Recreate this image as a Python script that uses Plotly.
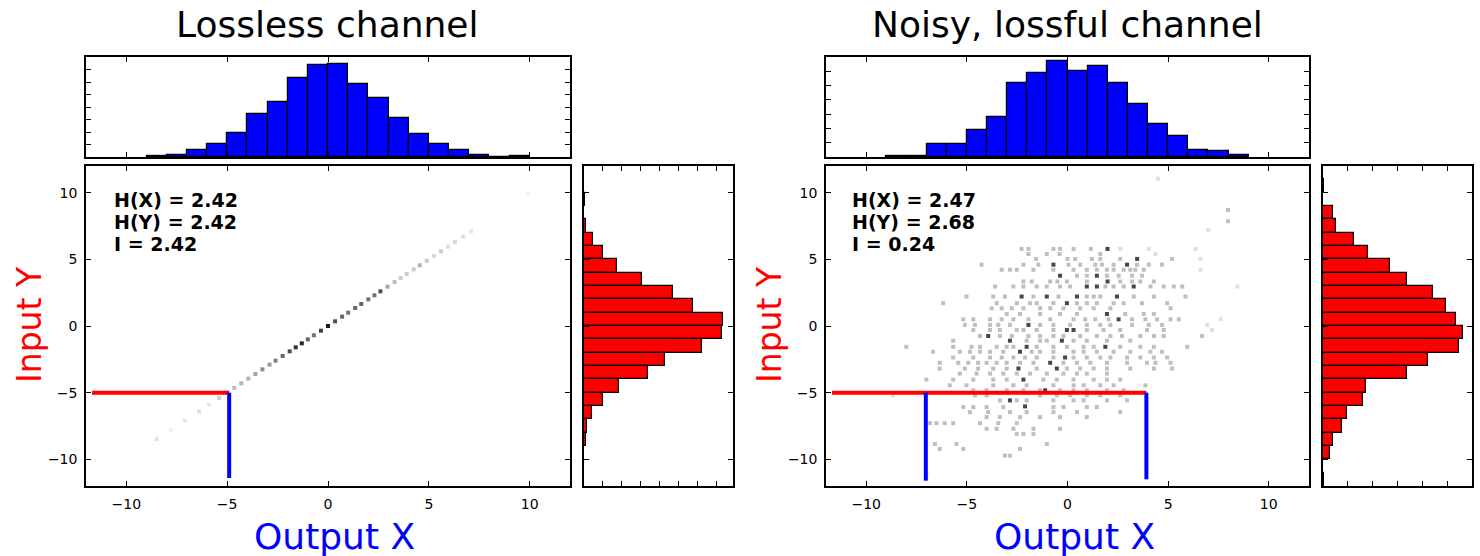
import plotly.graph_objects as go

W, H = 1480, 556

# ---------------- DATA ----------------
# Lossless channel: marginal histogram of X (bin centres, heights in axis units)
lossless_x_bins = [-8.5, -7.5, -6.5, -5.5, -4.5, -3.5, -2.5, -1.5, -0.5, 0.5,
                   1.5, 2.5, 3.5, 4.5, 5.5, 6.5, 7.5, 8.5, 9.5]
lossless_x_counts = [0.08, 0.2, 0.54, 1.03, 1.92, 3.46, 4.38, 6.35, 7.38, 7.43,
                     5.86, 4.73, 3.11, 1.81, 1.05, 0.57, 0.19, 0.0, 0.08]
# Lossless channel: marginal histogram of Y
lossless_y_bins = [9.5, 8.5, 7.5, 6.5, 5.5, 4.5, 3.5, 2.5, 1.5, 0.5,
                   -0.5, -1.5, -2.5, -3.5, -4.5, -5.5, -6.5, -7.5, -8.5]
lossless_y_counts = [0.05, 0.0, 0.13, 0.5, 1.0, 1.75, 3.05, 4.7, 5.79, 7.36,
                     7.32, 6.27, 4.29, 3.41, 1.84, 1.02, 0.45, 0.14, 0.1]

# Noisy channel: marginal histogram of X
noisy_x_bins = [-8.5, -7.5, -6.5, -5.5, -4.5, -3.5, -2.5, -1.5, -0.5, 0.5,
                1.5, 2.5, 3.5, 4.5, 5.5, 6.5, 7.5, 8.5]
noisy_x_counts = [0.05, 0.1, 0.9, 0.9, 1.86, 2.83, 5.19, 5.86, 6.69, 6.05,
                  6.36, 5.19, 3.69, 2.33, 1.48, 0.52, 0.4, 0.12]
# Noisy channel: marginal histogram of Y
noisy_y_bins = [10.5, 9.5, 8.5, 7.5, 6.5, 5.5, 4.5, 3.5, 2.5, 1.5, 0.5, -0.5,
                -1.5, -2.5, -3.5, -4.5, -5.5, -6.5, -7.5, -8.5, -9.5, -10.5, -11.5]
noisy_y_counts = [0.03, 0.0, 0.42, 0.54, 1.24, 1.83, 2.68, 3.37, 4.43, 4.97, 5.36, 5.63,
                  5.47, 4.22, 3.37, 1.72, 1.62, 0.97, 0.77, 0.42, 0.27, 0.0, 0.03]

# Lossless joint distribution: cells along the diagonal (x = y) and darkness 0..1
lossless_cells_x = [-8.5, -7.8, -7.1, -6.4, -5.9, -5.4, -5.0, -4.65, -4.3, -3.95,
                    -3.6, -3.25, -2.9, -2.6, -2.25, -1.9, -1.6, -1.3, -1.0, -0.7,
                    -0.35, 0.0, 0.35, 0.7, 1.0, 1.35, 1.65, 2.0, 2.3, 2.6,
                    2.95, 3.3, 3.6, 3.9, 4.25, 4.55, 4.9, 5.25, 5.6, 5.95,
                    6.3, 6.7, 7.1, 9.9]
lossless_cells_dark = [0.12, 0.05, 0.1, 0.12, 0.1, 0.18, 0.2, 0.25, 0.3, 0.3,
                       0.35, 0.45, 0.4, 0.5, 0.6, 0.7, 0.8, 0.85, 0.6, 0.55,
                       0.75, 0.9, 0.7, 0.6, 0.55, 0.6, 0.6, 0.55, 0.55, 0.7,
                       0.35, 0.25, 0.2, 0.2, 0.2, 0.3, 0.22, 0.15, 0.2, 0.12,
                       0.15, 0.12, 0.1, 0.05]

# Noisy joint distribution: light cells, one row of x positions per y value
noisy_rows_y = [5.78, 5.4, 5.03, 4.6, 4.22, 3.77, 3.34, 2.96, 2.21, 1.71, 1.33, 0.9,
                0.5, 0.08, -0.3, -0.75, -1.1, -1.56, -1.93, -2.36, -2.76, -3.19,
                -3.57, -4.02, -4.45, -4.82, -5.2, -5.58, -6.08, -6.46, -6.83,
                -7.29, -7.71, -8.09, -8.84, -9.22, -9.72, 8.7, 7.86]
noisy_rows_x = [
    [-2.28, -1.94, -0.70, -0.37, 0.30, 1.16],
    [-1.94, -1.03, -0.40, 1.63],
    [-1.56, 0.0, 0.38, 1.21, 1.63, 2.62, 5.20],
    [-4.27, -2.19, -1.45, 0.05, 0.63, 1.38, 1.71, 2.29, 3.46, 4.04, 4.70],
    [-3.27, -2.86, -2.52, -1.69, -0.70, 0.30, 0.96, 1.46, 1.96, 2.29, 2.79, 3.12, 3.37, 3.79],
    [0.47, 0.96, 1.96, 2.54, 3.21, 3.70],
    [-2.19, -1.78, -0.86, -0.50, -0.03, 0.96, 2.62, 3.21, 3.62, 4.29],
    [-3.60, -2.69, -2.19, -1.53, -1.03, -0.37, 0.13, 1.88, 2.29, 2.79, 4.12, 4.78, 5.28, 5.70],
    [-5.02, -3.69, -3.11, -1.69, -0.45, 0.96, 1.30, 1.63, 3.29, 4.29, 5.86],
    [-6.18, -3.52, -2.52, -1.86, -1.53, -0.70, 0.47, 0.96, 1.46, 2.29, 2.79, 3.70, 4.95],
    [-3.77, -3.27, -2.77, -2.19, -1.36, -0.86, -0.20, 0.63, 1.30, 2.13, 5.12],
    [-3.02, -2.36, -1.36, -0.37, 0.47, 2.87, 3.79, 4.29],
    [-5.18, -4.68, -3.85, -3.27, -2.69, -1.94, -0.86, 0.30, 0.88, 1.38, 2.04, 3.21, 3.87, 4.45, 5.12, 5.53],
    [-5.10, -4.60, -3.85, -3.44, -2.86, -1.36, -0.70, 0.13, 0.96, 1.63, 2.13, 3.21, 4.04, 4.70],
    [-4.68, -3.85, -3.36, -2.52, -2.19, -1.53, -0.70, 0.96, 1.79, 2.62, 3.95, 4.78],
    [-4.35, -3.36, -2.77, -1.94, -1.36, -0.70, -0.20, 0.63, 1.46, 2.13, 2.71, 3.62, 4.29, 4.78, 6.69],
    [-5.68, -2.03, -1.36, -1.03, 0.30, 0.96, 1.96, 3.12],
    [-8.01, -5.68, -4.77, -4.35, -3.52, -3.02, -2.69, -1.53, -0.70, -0.03, 0.80, 1.30, 2.62, 3.62, 4.29, 5.95],
    [-6.68, -5.35, -4.85, -4.35, -3.85, -3.19, -1.78, -1.36, -0.70, 0.30, 0.80, 1.46, 2.29, 3.12, 4.12, 4.70],
    [-5.68, -4.68, -3.85, -3.27, -2.69, -2.11, -1.53, -0.70, 0.30, 0.96, 1.63, 2.13, 2.96, 3.62, 4.29, 4.95],
    [-6.35, -5.43, -4.93, -4.44, -4.02, -3.52, -3.02, -2.36, -1.69, -0.20, 0.47, 1.13, 1.96, 2.96, 3.95, 4.37, 5.12],
    [-6.35, -5.10, -4.44, -3.69, -3.02, -1.53, -0.03, 0.63, 1.30, 1.96, 3.12, 4.29, 5.20],
    [-5.35, -4.52, -3.85, -3.19, -2.52, -1.86, -1.03, -0.20, 0.47, 0.96, 1.96],
    [-7.01, -5.68, -4.68, -3.69, -3.02, -1.20, -0.53, 0.30, 1.30, 1.96, 2.62],
    [-5.85, -5.02, -3.69, -2.69, -2.03, -0.70, 0.30, 0.80, 1.63, 2.29, 3.87],
    [-4.68, -4.02, -3.02, -2.19, -1.36, -0.37, 0.30, 0.96, 1.96, 2.79],
    [-4.60, -4.02, -1.36, -0.53, 0.13, 0.96, 1.63, 2.62],
    [-3.36, -2.52, -2.03, -0.70, 0.30, 0.80, 1.96, 2.96],
    [-5.18, -4.68, -4.02, -3.19, -0.70, -0.20, 0.96, 1.46],
    [-4.85, -3.94, -2.86, -2.03, -0.70, 0.47, 2.62],
    [-4.02, -3.36, -2.36, -1.36, -0.37, 0.96],
    [-6.84, -6.51, -6.10, -5.68, -4.35, -3.44, -2.52],
    [-4.02, -3.52, -2.69, -1.69, -0.37],
    [-2.52, -2.19, -1.69],
    [-6.59, -5.52, -1.03],
    [-6.35, -5.18, -2.36],
    [-3.11, -2.86],
    [7.97],
    [7.97],
]
# Noisy joint distribution: dark (high-count) cells
noisy_dark_x = [1.99, 3.46, -0.70, 2.96, -0.37, 1.46, 1.99, 0.96, 1.46, 3.29, -2.28, -1.03,
                0.47, 2.46, -0.03, 1.96, 2.54, -1.94, -0.03, 0.30, -3.94, -2.86, -0.28,
                -2.03, 1.88, -2.36, -0.12, -0.86, -2.44, -0.53, -2.19, -1.11, -2.86, -2.11]
noisy_dark_y = [5.78, 5.03, 4.6, 4.6, 3.77, 3.77, 3.34, 2.96, 2.96, 2.96, 2.21, 2.21,
                2.21, 2.21, 1.71, 0.9, 0.5, 0.08, -0.3, -0.3, -0.75, -1.1, -1.1,
                -1.56, -1.56, -1.93, -2.36, -2.76, -3.19, -3.19, -4.02, -4.82, -5.58, -6.03]
# Noisy joint distribution: very faint cells
noisy_faint_x = [4.5, 7.0, 2.62, 4.04, 6.36, 6.61, 6.61, 7.61, 6.94, 7.19, 8.44, -8.67, -7.01, 4.37]
noisy_faint_y = [11.05, 7.2, 5.78, 5.78, 5.78, 5.03, 4.22, 0.5, 0.08, -0.3, 2.96, -5.2, -11.1, 5.4]

# Threshold lines ("cuts") drawn on each joint plot
lossless_cut_h_x = [-11.7, -4.9]
lossless_cut_v_x = [-4.9]
lossless_cut_v_ybottom = [-11.4]
noisy_cut_h_x = [-11.7, 3.92]
noisy_cut_v_x = [-7.04, 3.92]
noisy_cut_v_ybottom = [-11.6, -11.5]
cut_level = -5

# Statistics text
lossless_stats = ["H(X) = 2.42", "H(Y) = 2.42", "I = 2.42"]
noisy_stats = ["H(X) = 2.47", "H(Y) = 2.68", "I = 0.24"]
titles = ["Lossless channel", "Noisy, lossful channel"]
main_ticks = [-10, -5, 0, 5, 10]

# ---------------- FIGURE ----------------
FONT = "DejaVu Sans"
BLUE = "#0000ff"
RED = "#ff0000"


def xd(a, b):
    return [a / W, b / W]


def yd(top, bottom):
    return [1 - bottom / H, 1 - top / H]


def gray(d):
    v = int(round(255 * (1 - d)))
    return f"rgb({v},{v},{v})"


fig = go.Figure()


def add_panel(k, x0, x1, side0, side1, xb, xc, xrange_top, yb, yc, xrange_side):
    # axis ids: main = k, top = k+1, side = k+2
    m, t, s = k, k + 1, k + 2
    ax = lambda i: "" if i == 1 else str(i)
    fig.add_trace(go.Bar(x=xb, y=xc, width=1, marker=dict(color=BLUE, line=dict(color="black", width=1.2)),
                         xaxis="x" + ax(t), yaxis="y" + ax(t), showlegend=False))
    fig.add_trace(go.Bar(y=yb, x=yc, width=1, orientation="h",
                         marker=dict(color=RED, line=dict(color="black", width=1.2)),
                         xaxis="x" + ax(s), yaxis="y" + ax(s), showlegend=False))
    base = dict(showline=True, linecolor="black", linewidth=1.5, mirror="ticks", ticks="inside",
                ticklen=5, tickwidth=1, tickcolor="black", showgrid=False, zeroline=False,
                tickfont=dict(family=FONT, size=14, color="black"))
    lay = {}
    lay["xaxis" + ax(m)] = dict(base, domain=xd(x0, x1), range=[-12, 12], tickvals=main_ticks,
                                 anchor="y" + ax(m), ticklabelstandoff=4)
    lay["yaxis" + ax(m)] = dict(base, domain=yd(166, 486), range=[-12, 12], tickvals=main_ticks,
                                 anchor="x" + ax(m), ticklabelstandoff=4)
    lay["xaxis" + ax(t)] = dict(base, domain=xd(x0, x1), range=[-12, 12], tickvals=main_ticks,
                                 showticklabels=False, anchor="y" + ax(t))
    lay["yaxis" + ax(t)] = dict(base, domain=yd(57, 157), range=[0, xrange_top], dtick=1,
                                 showticklabels=False, anchor="x" + ax(t))
    lay["xaxis" + ax(s)] = dict(base, domain=xd(side0, side1), range=[0, xrange_side], dtick=1,
                                 showticklabels=False, anchor="y" + ax(s))
    lay["yaxis" + ax(s)] = dict(base, domain=yd(166, 486), range=[-12, 12], tickvals=main_ticks,
                                 showticklabels=False, anchor="x" + ax(s))
    fig.update_layout(**lay)
    return "x" + ax(m), "y" + ax(m)


lx, ly = add_panel(1, 86, 570, 584, 733, lossless_x_bins, lossless_x_counts, 8,
                   lossless_y_bins, lossless_y_counts, 7.9)
rx, ry = add_panel(4, 826, 1309, 1323, 1472, noisy_x_bins, noisy_x_counts, 7,
                   noisy_y_bins, noisy_y_counts, 6)

MSIZE = 4
fig.add_trace(go.Scatter(x=lossless_cells_x, y=lossless_cells_x, mode="markers",
                         marker=dict(symbol="square", size=MSIZE,
                                     color=[gray(d) for d in lossless_cells_dark], line=dict(width=0)),
                         xaxis=lx, yaxis=ly, showlegend=False))

nx, ny = [], []
for yv, row in zip(noisy_rows_y, noisy_rows_x):
    for xv in row:
        nx.append(xv)
        ny.append(yv)
fig.add_trace(go.Scatter(x=noisy_faint_x, y=noisy_faint_y, mode="markers",
                         marker=dict(symbol="square", size=MSIZE, color=gray(0.12), line=dict(width=0)),
                         xaxis=rx, yaxis=ry, showlegend=False))
fig.add_trace(go.Scatter(x=nx, y=ny, mode="markers",
                         marker=dict(symbol="square", size=MSIZE, color=gray(0.25), line=dict(width=0)),
                         xaxis=rx, yaxis=ry, showlegend=False))
fig.add_trace(go.Scatter(x=noisy_dark_x, y=noisy_dark_y, mode="markers",
                         marker=dict(symbol="square", size=MSIZE, color=gray(0.72), line=dict(width=0)),
                         xaxis=rx, yaxis=ry, showlegend=False))


def add_cuts(xa, ya, hx, vx, vyb):
    fig.add_trace(go.Scatter(x=hx, y=[cut_level, cut_level], mode="lines",
                             line=dict(color=RED, width=4), xaxis=xa, yaxis=ya, showlegend=False))
    for xv, yb in zip(vx, vyb):
        fig.add_trace(go.Scatter(x=[xv, xv], y=[cut_level, yb], mode="lines",
                                 line=dict(color=BLUE, width=4), xaxis=xa, yaxis=ya, showlegend=False))


add_cuts(lx, ly, lossless_cut_h_x, lossless_cut_v_x, lossless_cut_v_ybottom)
add_cuts(rx, ry, noisy_cut_h_x, noisy_cut_v_x, noisy_cut_v_ybottom)

ann = []
for xa, ya, stats, xpos in [(lx, ly, lossless_stats, -10.7), (rx, ry, noisy_stats, -10.8)]:
    for i, s in enumerate(stats):
        ann.append(dict(x=xpos, y=[9.45, 7.8, 6.15][i], xref=xa, yref=ya, text="<b>" + s + "</b>",
                        showarrow=False, xanchor="left", yanchor="middle",
                        font=dict(family=FONT, size=19, color="black")))
for cx, title in [(327, titles[0]), (1067, titles[1])]:
    ann.append(dict(x=cx / W, y=1 - 25 / H, xref="paper", yref="paper", text=title, showarrow=False,
                    xanchor="center", yanchor="middle", font=dict(family=FONT, size=36, color="black")))
    ann.append(dict(x=(cx + 7) / W, y=1 - 536 / H, xref="paper", yref="paper", text="Output X",
                    showarrow=False, xanchor="center", yanchor="middle",
                    font=dict(family=FONT, size=36, color=BLUE)))
for lxp in [29, 769]:
    ann.append(dict(x=lxp / W, y=1 - 325 / H, xref="paper", yref="paper", text="Input Y", showarrow=False,
                    textangle=-90, xanchor="center", yanchor="middle",
                    font=dict(family=FONT, size=33, color=RED)))

fig.update_layout(width=W, height=H, margin=dict(l=0, r=0, t=0, b=0), autosize=False,
                  paper_bgcolor="white", plot_bgcolor="white", bargap=0, annotations=ann,
                  font=dict(family=FONT))

fig.write_html("out.html")
